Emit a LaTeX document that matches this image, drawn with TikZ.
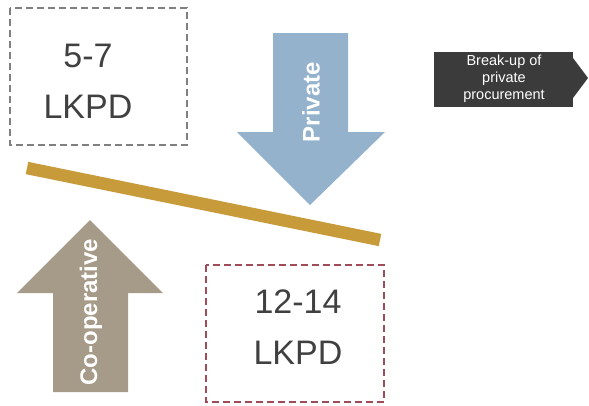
\documentclass[tikz,border=0pt]{standalone}
\usepackage{fontspec}
\setmainfont{Liberation Sans}
\definecolor{privblue}{HTML}{94B2CC}
\definecolor{coopbrown}{HTML}{A69A89}
\definecolor{bargold}{HTML}{C79A3A}
\definecolor{boxgray}{HTML}{808080}
\definecolor{boxred}{HTML}{A04B58}
\definecolor{darkbox}{HTML}{3B3B3B}
\definecolor{txtgray}{HTML}{404040}
\tikzset{
  dashbox/.style={line width=1.4pt, dash pattern=on 7pt off 4pt},
  bigtext/.style={font=\fontsize{34}{51}\selectfont, text=txtgray, align=center},
  arrowlabel/.style={font=\bfseries\fontsize{24}{28}\selectfont, text=white, rotate=90},
}
\begin{document}
\begin{tikzpicture}[x=1pt,y=-1pt]
\useasboundingbox (0,0) rectangle (589,405);
% box 5-7
\draw[dashbox, draw=boxgray] (10,8) rectangle (187,145);
\node[bigtext] (a) at (88,81) {5-7\\LKPD};
% Private arrow
\fill[privblue] (273,33) -- (348,33) -- (348,132) -- (385,132) -- (310,205) -- (237,132) -- (273,132) -- cycle;
\node[arrowlabel] (priv) at (311,102) {Private};
% bar
\coordinate (bl) at (27,168);
\coordinate (br) at (380,240);
\draw[bargold, line width=12.5pt] (bl) -- (br);
% Co-operative arrow
\fill[coopbrown] (90,220) -- (163,293) -- (128,293) -- (128,392) -- (53,392) -- (53,293) -- (17,293) -- cycle;
\node[arrowlabel] (coop) at (91,312) {Co-operative};
% box 12-14
\draw[dashbox, draw=boxred] (206,265) rectangle (384,402);
\node[bigtext] (b) at (298,327) {12-14\\LKPD};
% break-up
\fill[darkbox] (434,52) rectangle (573,107);
\fill[darkbox] (573,58) -- (588,78) -- (573,98) -- cycle;
\node[font=\fontsize{14.5}{17}\selectfont, text=white, align=center] (c) at (504,79) {Break-up of\\private\\procurement};
\end{tikzpicture}
\end{document}
